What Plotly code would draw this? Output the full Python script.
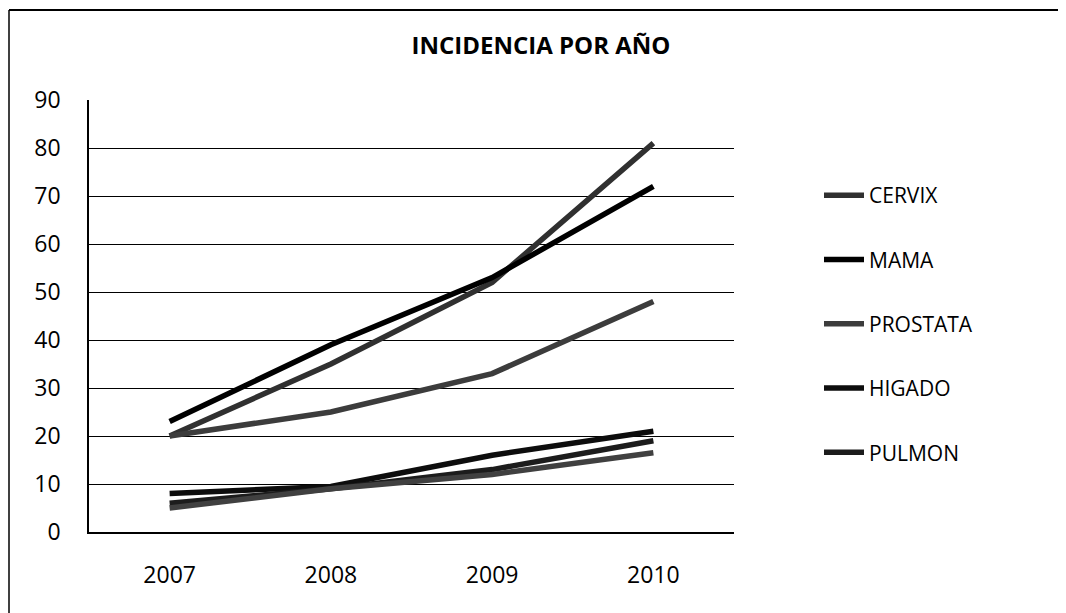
import plotly.graph_objects as go

years = ["2007", "2008", "2009", "2010"]
cervix = [20, 35, 52, 81]
mama = [23, 39, 53, 72]
prostata = [20, 25, 33, 48]
higado = [8, 9.5, 16, 21]
pulmon = [6, 9, 13, 19]
extra = [5, 9, 12, 16.5]

series = [
    ("CERVIX", cervix, "#303030", True),
    ("MAMA", mama, "#000000", True),
    ("PROSTATA", prostata, "#3c3c3c", True),
    ("HIGADO", higado, "#0d0d0d", True),
    ("PULMON", pulmon, "#1c1c1c", True),
    ("", extra, "#404040", False),
]

fig = go.Figure()
for i, (name, vals, color, show) in enumerate(series):
    fig.add_trace(go.Scatter(
        x=years, y=vals, name=name, mode="lines",
        line=dict(color=color, width=5.5),
        legendgroup=f"g{i}", showlegend=show,
    ))

# page is offset by the 8px body margin
W, H = 1066, 613
L, T = 81, 92
pw, ph = 645, 432
R, B = W - L - pw, H - T - ph

fig.update_layout(
    width=W, height=H,
    margin=dict(l=L, r=R, t=T, b=B),
    paper_bgcolor="white", plot_bgcolor="white",
    font=dict(family="Open Sans, sans-serif", size=22, color="black"),
    title=dict(text="<b>INCIDENCIA POR AÑO</b>", x=0.5, xanchor="center",
               y=1 - 38 / H, yanchor="middle", font=dict(size=24)),
    legend=dict(x=(819 - 8 - L) / pw, xanchor="left", y=1 - (175 - 8 - T) / ph, yanchor="top",
                tracegroupgap=34, traceorder="grouped",
                font=dict(size=21), itemwidth=40),
    showlegend=True,
)
fig.update_xaxes(type="category", range=[-0.5, 3.5], showgrid=False,
                 showline=True, linecolor="black", linewidth=1.5,
                 ticks="", ticklabelstandoff=22, tickfont=dict(size=23))
fig.update_yaxes(range=[0, 90], dtick=10, showgrid=True, gridcolor="black", gridwidth=1,
                 showline=True, linecolor="black", linewidth=1.5, zeroline=False,
                 ticks="", ticklabelstandoff=22, tickfont=dict(size=23))

# outer chart border (left and top edges visible in reference)
bx = (1 - L) / pw
by = 1 + (T - 2) / ph
fig.add_shape(type="line", xref="paper", yref="paper", x0=bx, x1=bx, y0=by, y1=-(B + 5) / ph,
              line=dict(color="black", width=1.5))
fig.add_shape(type="line", xref="paper", yref="paper", x0=bx, x1=(W - L + 5) / pw, y0=by, y1=by,
              line=dict(color="black", width=2))

fig.write_html("out.html")
